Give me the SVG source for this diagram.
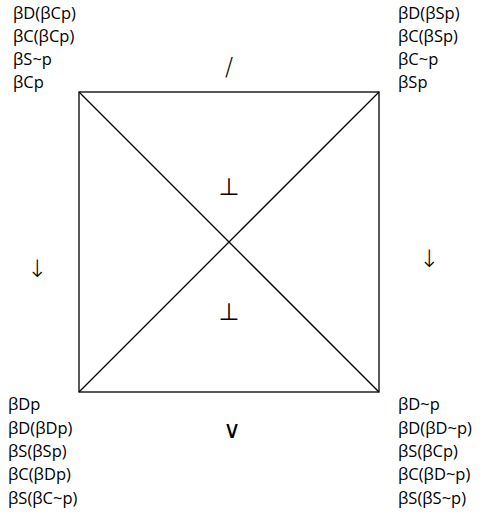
<svg xmlns="http://www.w3.org/2000/svg" width="487" height="515" viewBox="0 0 487 515">
<style>
text{font-family:"Open Sans","Noto Sans",sans-serif;font-size:16.5px;fill:#000}
.e{stroke:#000;stroke-width:1.3;fill:none}
text.s{font-family:"DejaVu Sans",sans-serif;font-weight:200;font-size:24px;text-anchor:middle;fill:#000}
text.t{font-family:"DejaVu Sans",sans-serif;font-weight:normal;font-size:24px;text-anchor:middle;fill:#000}
</style>
<rect width="487" height="515" fill="#fff"/>
<g id="connectors">
<rect class="e" x="79" y="92" width="300" height="300"/>
<line class="e" x1="79" y1="92" x2="379" y2="392"/>
<line class="e" x1="379" y1="92" x2="79" y2="392"/>
</g>
<g id="n-tl"><text x="13" y="19">βD(βCp)</text><text x="13" y="42">βC(βCp)</text><text x="13" y="65">βS~p</text><text x="13" y="88">βCp</text></g>
<g id="n-tr"><text x="398" y="19">βD(βSp)</text><text x="398" y="42">βC(βSp)</text><text x="398" y="65">βC~p</text><text x="398" y="88">βSp</text></g>
<g id="n-bl"><text x="8" y="410">βDp</text><text x="8" y="434">βD(βDp)</text><text x="8" y="457">βS(βSp)</text><text x="8" y="480">βC(βDp)</text><text x="8" y="504">βS(βC~p)</text></g>
<g id="n-br"><text x="398" y="410">βD~p</text><text x="398" y="434">βD(βD~p)</text><text x="398" y="457">βS(βCp)</text><text x="398" y="480">βC(βD~p)</text><text x="398" y="504">βS(βS~p)</text></g>
<g id="labels">
<text class="s" x="229" y="75">/</text>
<text class="t" x="229" y="195">⊥</text>
<text class="t" x="229" y="320">⊥</text>
<text class="s" x="37" y="277">↓</text>
<text class="s" x="429" y="267">↓</text>
<text class="t" x="232" y="438">∨</text>
</g>
</svg>
